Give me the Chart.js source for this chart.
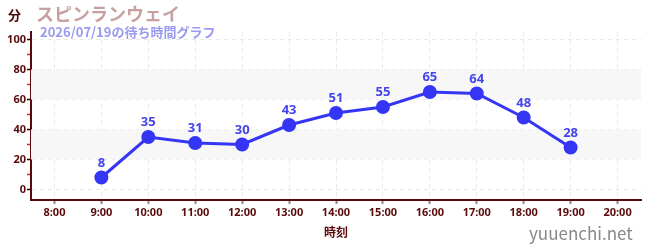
<!DOCTYPE html>
<html>
<head>
<meta charset="utf-8">
<script src="https://cdn.jsdelivr.net/npm/chart.js@4"></script>
<style>
  body { margin: 0; background: #fff; font-family: "Noto Sans CJK JP", "Noto Sans", sans-serif; }
  #wrap { position: relative; width: 650px; height: 250px; }
  .txt { position: absolute; white-space: nowrap; font-weight: bold; }
  #unit { left: 8px; top: 5px; font-size: 13px; color: #4a0a0a; }
  #title { left: 36px; top: 0px; font-size: 18px; color: #c9a0a0; }
  #sub { left: 40px; top: 22px; font-size: 13px; color: #9a9af0; }
  #site { left: 529px; top: 220px; font-size: 17px; color: #888; font-weight: normal; }
</style>
</head>
<body>
<div id="wrap">
  <canvas id="chart" width="650" height="250"></canvas>
  <div class="txt" id="unit">分</div>
  <div class="txt" id="title">スピンランウェイ</div>
  <div class="txt" id="sub">2026/07/19の待ち時間グラフ</div>
  <div class="txt" id="site">yuuenchi.net</div>
</div>
<script>
// -----------------------------
// Data
// -----------------------------
const hours = ["8:00", "9:00", "10:00", "11:00", "12:00", "13:00", "14:00",
               "15:00", "16:00", "17:00", "18:00", "19:00", "20:00"];
const waitTimes = [null, 8, 35, 31, 30, 43, 51, 55, 65, 64, 48, 28, null];
const yTicks = [0, 10, 20, 30, 40, 50, 60, 70, 80, 90, 100];
const bands = [[20, 40], [60, 80]];

const maroon = "#5a0a0a";

// grey bands behind the data
const bandPlugin = {
    id: "bands",
    beforeDatasetsDraw(chart) {
        const { ctx, chartArea, scales } = chart;
        ctx.save();
        ctx.fillStyle = "#f7f7f7";
        bands.forEach(b => {
            const y1 = scales.y.getPixelForValue(b[1]);
            const y0 = scales.y.getPixelForValue(b[0]);
            ctx.fillRect(chartArea.left, y1, chartArea.right - chartArea.left, y0 - y1);
        });
        ctx.restore();
    }
};

// value labels above points
const labelPlugin = {
    id: "valueLabels",
    afterDatasetsDraw(chart) {
        const { ctx } = chart;
        const meta = chart.getDatasetMeta(0);
        ctx.save();
        ctx.font = "bold 13px 'Noto Sans', sans-serif";
        ctx.fillStyle = "#4545ee";
        ctx.textAlign = "center";
        ctx.textBaseline = "bottom";
        meta.data.forEach((pt, i) => {
            const v = waitTimes[i];
            if (v == null) return;
            ctx.fillText(String(v), pt.x, pt.y - 8);
        });
        ctx.restore();
    }
};

new Chart(document.getElementById("chart"), {
    type: "line",
    data: {
        labels: hours,
        datasets: [{
            data: waitTimes,
            borderColor: "#3535f5",
            backgroundColor: "#3535f5",
            borderWidth: 3,
            pointRadius: 5.5,
            pointHoverRadius: 5.5,
            tension: 0,
            spanGaps: false
        }]
    },
    options: {
        responsive: false,
        animation: false,
        layout: { padding: { top: 32, right: 9, left: 0, bottom: 0 } },
        plugins: { legend: { display: false }, tooltip: { enabled: false } },
        scales: {
            x: {
                offset: true,
                afterFit: s => { s.height = 50; },
                grid: {
                    offset: false,
                    color: "#e8e8e8",
                    tickColor: "#888",
                    tickLength: 4,
                    tickWidth: 2
                },
                border: { color: maroon, width: 2, dash: [4, 4] },
                ticks: {
                    color: maroon,
                    font: { size: 11, weight: "bold", family: "'Noto Sans', sans-serif" },
                    padding: 2,
                    maxRotation: 0,
                    autoSkip: false
                },
                title: {
                    display: true,
                    text: "時刻",
                    color: maroon,
                    font: { size: 12, weight: "bold", family: "'Noto Sans CJK JP', sans-serif" },
                    padding: { top: 4, bottom: 10 }
                }
            },
            y: {
                min: -7,
                max: 105,
                afterFit: s => { s.width = 31; },
                afterBuildTicks: s => { s.ticks = yTicks.map(v => ({ value: v })); },
                grid: {
                    color: c => (c.tick && c.tick.value % 20 === 0) ? "#e8e8e8" : "rgba(0,0,0,0)",
                    tickColor: c => (c.tick && c.tick.value % 20 === 0) ? "#2a0000" : "#e02020",
                    tickLength: 4,
                    tickWidth: 1.5
                },
                border: { color: maroon, width: 2, dash: [4, 4] },
                ticks: {
                    color: maroon,
                    font: { size: 11, weight: "bold", family: "'Noto Sans', sans-serif" },
                    padding: 1,
                    callback: v => (v % 20 === 0 ? v : "")
                }
            }
        }
    },
    plugins: [bandPlugin, labelPlugin]
});
</script>
</body>
</html>
